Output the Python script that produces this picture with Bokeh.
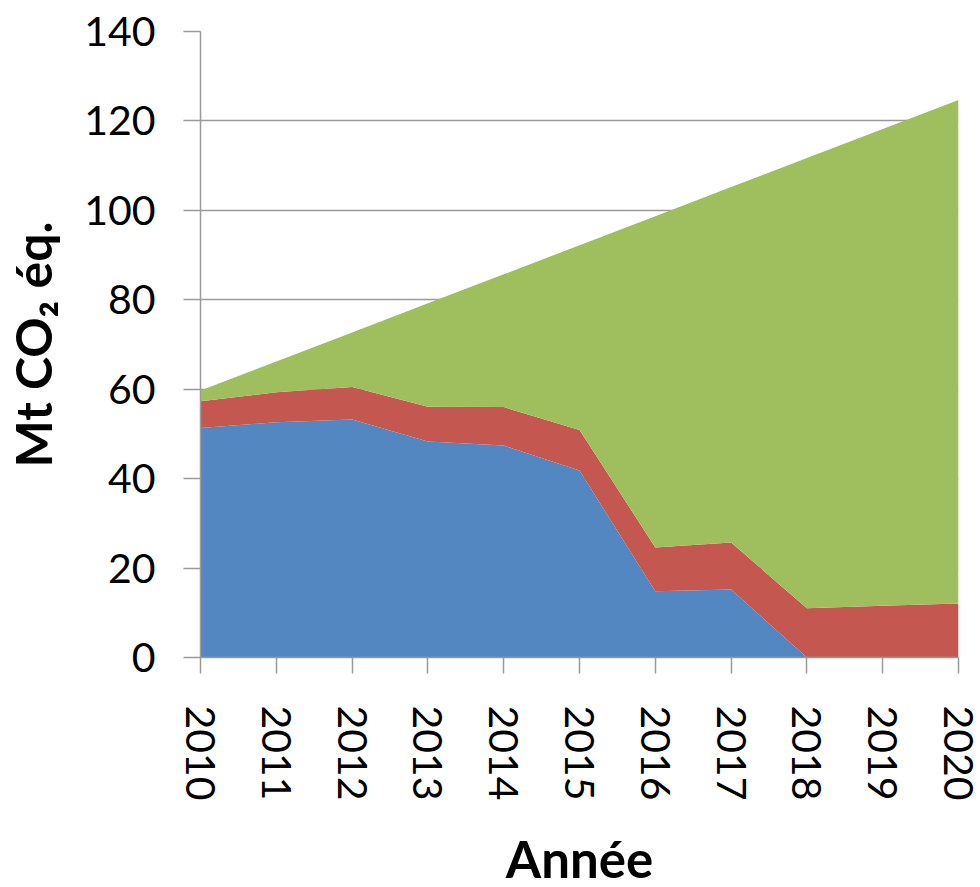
from bokeh.plotting import figure
from bokeh.models import ColumnDataSource, Range1d, FixedTicker
from bokeh.embed import file_html
from bokeh.resources import INLINE

years = [2010, 2011, 2012, 2013, 2014, 2015, 2016, 2017, 2018, 2019, 2020]
blue = [51.3, 52.6, 53.2, 48.3, 47.4, 41.8, 14.8, 15.2, 0.0, 0.0, 0.0]
red = [6.0, 6.7, 7.3, 7.8, 8.6, 9.1, 9.8, 10.5, 11.0, 11.6, 12.1]
green = [2.4, 6.9, 12.2, 23.1, 29.7, 41.3, 74.1, 79.5, 100.7, 106.6, 112.6]
y_ticks = [0, 20, 40, 60, 80, 100, 120, 140]

colors = ["#5387C1", "#C4574F", "#9FBF5E"]

src = ColumnDataSource(dict(x=years, blue=blue, red=red, green=green))

p = figure(width=970, height=870, output_backend="svg", toolbar_location=None,
           x_range=Range1d(years[0], years[-1]), y_range=Range1d(0, 140),
           frame_width=758, frame_height=626,
           min_border_left=192, min_border_top=31, min_border_right=20,
           min_border_bottom=200)
p.outline_line_color = None
p.background_fill_color = "white"

p.varea_stack(stackers=["blue", "red", "green"], x="x", color=colors, source=src)

FONT = "Lato"
gray = "#9a9a9a"

p.xaxis.ticker = FixedTicker(ticks=years)
p.yaxis.ticker = FixedTicker(ticks=y_ticks)
p.xgrid.visible = False
p.ygrid.grid_line_color = gray
p.ygrid.grid_line_width = 1.5

for ax in (p.xaxis[0], p.yaxis[0]):
    ax.axis_line_color = gray
    ax.axis_line_width = 1.5
    ax.major_tick_line_color = gray
    ax.major_tick_line_width = 1.5
    ax.major_tick_in = 0
    ax.minor_tick_line_color = None
    ax.major_label_text_font = FONT
    ax.major_label_text_color = "black"
    ax.axis_label_text_font = FONT
    ax.axis_label_text_font_style = "bold"
    ax.axis_label_text_color = "black"

p.yaxis.major_label_text_font_size = "41px"
p.yaxis.major_tick_out = 17
p.yaxis.major_label_standoff = 28
p.yaxis.axis_label = "Mt CO\u2082 éq."
p.yaxis.axis_label_text_font_size = "50px"
p.yaxis.axis_label_standoff = 18

p.xaxis.major_label_text_font_size = "41px"
p.xaxis.major_tick_out = 16
p.xaxis.major_label_standoff = 32
p.xaxis.major_label_orientation = "vertical"
p.xaxis.axis_label = "Année"
p.xaxis.axis_label_text_font_size = "51px"
p.xaxis.axis_label_standoff = 24

open("out.html", "w").write(file_html(p, INLINE))
